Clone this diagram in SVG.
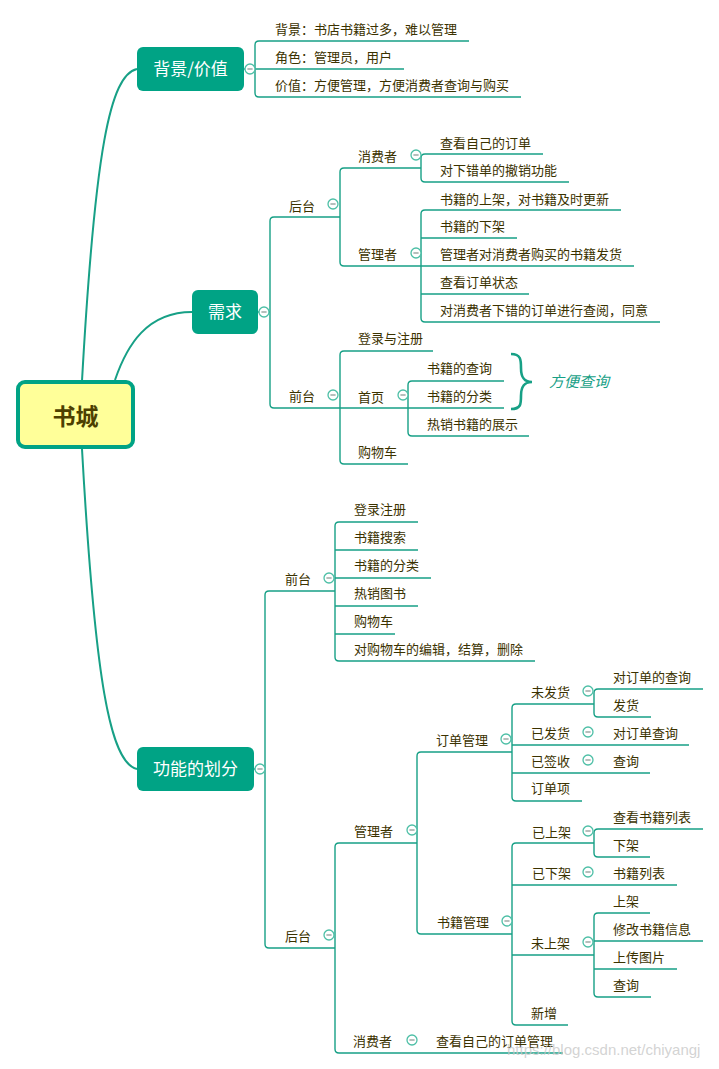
<svg xmlns="http://www.w3.org/2000/svg" width="719" height="1069" viewBox="0 0 719 1069">
<style>
.ln{fill:none;stroke:#17a086;stroke-width:1.4}
.mc{fill:none;stroke:#17a086;stroke-width:2}
.t{font-family:"Noto Sans CJK SC",sans-serif;font-size:13px;fill:#3b3200}
.mt{font-family:"Noto Sans CJK SC",sans-serif;font-size:17px;fill:#ffffff;text-anchor:middle}
.box{fill:#00a385}
.c{fill:#ffffff;stroke:#4dbfa6;stroke-width:1.3}
.m{stroke:#7a8a86;stroke-width:1.1}
</style>
<defs>
<g id="col"><circle class="c" cx="0" cy="0" r="5"/><line class="m" x1="-2.6" y1="0" x2="2.6" y2="0"/></g>
</defs>
<rect width="719" height="1069" fill="#ffffff"/>

<g id="connectors">
<path class="mc" d="M82,381 C95,150 110,75 137,69"/>
<path class="mc" d="M115,380 C127,345 147,312 192,312"/>
<path class="mc" d="M82,449 C95,680 110,763 137,769"/>

<path class="ln" d="M244,69 H255"/>
<path class="ln" d="M255,45 Q255,41 259,41 H469 M255,45 V93 Q255,97 259,97 H521 M255,69 H404"/>

<path class="ln" d="M258,312 H270"/>
<path class="ln" d="M270,221 Q270,217 274,217 H340 M270,221 V404 Q270,408 274,408 H340"/>
<path class="ln" d="M340,172 Q340,168 344,168 H421 M340,172 V262 Q340,266 344,266 H421"/>
<path class="ln" d="M421,158 Q421,154 425,154 H543 M421,158 V178 Q421,182 425,182 H569"/>
<path class="ln" d="M421,214 Q421,210 425,210 H621 M421,214 V318 Q421,322 425,322 H660 M421,238 H517 M421,266 H634 M421,294 H529"/>
<path class="ln" d="M340,355 Q340,351 344,351 H433 M340,355 V460 Q340,464 344,464 H408 M340,408 H408"/>
<path class="ln" d="M408,385 Q408,381 412,381 H504 M408,385 V432 Q408,436 412,436 H529 M408,408 H504"/>
<path d="M511,354 C521,354 521,360 521,368 C521,376 523,382 532,382 C523,382 521,388 521,396 C521,404 521,409 511,409" fill="none" stroke="#17a086" stroke-width="2.6"/>

<path class="ln" d="M254,769 H265"/>
<path class="ln" d="M265,595 Q265,591 269,591 H335 M265,595 V944 Q265,948 269,948 H335"/>
<path class="ln" d="M335,526 Q335,522 339,522 H418 M335,526 V657 Q335,661 339,661 H535 M335,550 H418 M335,578 H431 M335,606 H418 M335,634 H395"/>
<path class="ln" d="M335,847 Q335,843 339,843 H417 M335,847 V1049 Q335,1053 339,1053 H563"/>
<path class="ln" d="M417,756 Q417,752 421,752 H512 M417,756 V930 Q417,934 421,934 H512"/>
<path class="ln" d="M512,708 Q512,704 516,704 H594 M512,708 V797 Q512,801 516,801 H582 M512,745 H689 M512,773 H650"/>
<path class="ln" d="M594,693 Q594,689 598,689 H703 M594,693 V713 Q594,717 598,717 H651"/>
<path class="ln" d="M512,847 Q512,843 516,843 H594 M512,847 V1021 Q512,1025 516,1025 H568 M512,885 H677 M512,955 H594"/>
<path class="ln" d="M594,833 Q594,829 598,829 H703 M594,833 V853 Q594,857 598,857 H650"/>
<path class="ln" d="M594,917 Q594,913 598,913 H650 M594,917 V993 Q594,997 598,997 H651 M594,941 H703 M594,969 H677"/>
</g>

<g id="root">
<rect x="18" y="382" width="115" height="65" rx="7" fill="#ffff99" stroke="#00a385" stroke-width="4"/>
<text x="75.5" y="425" font-family="Noto Sans CJK SC, sans-serif" font-size="23" font-weight="bold" fill="#4d4000" text-anchor="middle">书城</text>
</g>

<g id="topic-bg">
<rect class="box" x="137" y="47" width="107" height="44" rx="6"/>
<text class="mt" x="190.5" y="75">背景/价值</text>
<use href="#col" x="250" y="69"/>
</g>
<g id="bg-children">
<text class="t" x="275" y="34">背景：书店书籍过多，难以管理</text>
<text class="t" x="275" y="62">角色：管理员，用户</text>
<text class="t" x="275" y="90">价值：方便管理，方便消费者查询与购买</text>
</g>

<g id="topic-xq">
<rect class="box" x="192" y="290" width="66" height="44" rx="6"/>
<text class="mt" x="225" y="318">需求</text>
<use href="#col" x="264" y="312"/>
</g>
<g id="xq-houtai">
<text class="t" x="289" y="211">后台</text><use href="#col" x="333" y="204"/>
<text class="t" x="358" y="161">消费者</text><use href="#col" x="416" y="155"/>
<text class="t" x="440" y="148">查看自己的订单</text>
<text class="t" x="440" y="175">对下错单的撤销功能</text>
<text class="t" x="358" y="259">管理者</text><use href="#col" x="416" y="253"/>
<text class="t" x="440" y="204">书籍的上架，对书籍及时更新</text>
<text class="t" x="440" y="231">书籍的下架</text>
<text class="t" x="440" y="259">管理者对消费者购买的书籍发货</text>
<text class="t" x="440" y="287">查看订单状态</text>
<text class="t" x="440" y="315">对消费者下错的订单进行查阅，同意</text>
</g>
<g id="xq-qiantai">
<text class="t" x="289" y="401">前台</text><use href="#col" x="333" y="395"/>
<text class="t" x="358" y="343">登录与注册</text>
<text class="t" x="358" y="402">首页</text><use href="#col" x="403" y="395"/>
<text class="t" x="427" y="373">书籍的查询</text>
<text class="t" x="427" y="401">书籍的分类</text>
<text class="t" x="427" y="429">热销书籍的展示</text>
<text class="t" x="358" y="457">购物车</text>
<text x="549" y="387" font-family="Noto Sans CJK SC, sans-serif" font-size="15" font-style="italic" fill="#17a086">方便查询</text>
</g>

<g id="topic-gn">
<rect class="box" x="137" y="747" width="117" height="44" rx="6"/>
<text class="mt" x="195.5" y="775">功能的划分</text>
<use href="#col" x="260" y="769"/>
</g>
<g id="gn-qiantai">
<text class="t" x="285" y="584">前台</text><use href="#col" x="329" y="578"/>
<text class="t" x="354" y="514">登录注册</text>
<text class="t" x="354" y="542">书籍搜索</text>
<text class="t" x="354" y="570">书籍的分类</text>
<text class="t" x="354" y="598">热销图书</text>
<text class="t" x="354" y="626">购物车</text>
<text class="t" x="354" y="654">对购物车的编辑，结算，删除</text>
</g>
<g id="gn-houtai">
<text class="t" x="285" y="941">后台</text><use href="#col" x="329" y="935"/>
<text class="t" x="354" y="836">管理者</text><use href="#col" x="412" y="830"/>
<text class="t" x="436" y="745">订单管理</text><use href="#col" x="506" y="739"/>
<text class="t" x="531" y="697">未发货</text><use href="#col" x="588" y="691"/>
<text class="t" x="613" y="682">对订单的查询</text>
<text class="t" x="613" y="710">发货</text>
<text class="t" x="531" y="738">已发货</text><use href="#col" x="588" y="732"/>
<text class="t" x="613" y="738">对订单查询</text>
<text class="t" x="531" y="766">已签收</text><use href="#col" x="588" y="760"/>
<text class="t" x="613" y="766">查询</text>
<text class="t" x="531" y="793">订单项</text>
<text class="t" x="437" y="927">书籍管理</text><use href="#col" x="507" y="921"/>
<text class="t" x="532" y="837">已上架</text><use href="#col" x="588" y="831"/>
<text class="t" x="613" y="822">查看书籍列表</text>
<text class="t" x="613" y="850">下架</text>
<text class="t" x="532" y="878">已下架</text><use href="#col" x="588" y="872"/>
<text class="t" x="613" y="878">书籍列表</text>
<text class="t" x="531" y="948">未上架</text><use href="#col" x="588" y="942"/>
<text class="t" x="613" y="906">上架</text>
<text class="t" x="613" y="934">修改书籍信息</text>
<text class="t" x="613" y="962">上传图片</text>
<text class="t" x="613" y="990">查询</text>
<text class="t" x="531" y="1018">新增</text>
<text class="t" x="353" y="1046">消费者</text><use href="#col" x="412" y="1040"/>
<text class="t" x="436" y="1046">查看自己的订单管理</text>
</g>
<text x="507" y="1055" font-family="Liberation Sans, sans-serif" font-size="15" fill="#c8c8c8" fill-opacity="0.8">https://blog.csdn.net/chiyangj</text>
</svg>
